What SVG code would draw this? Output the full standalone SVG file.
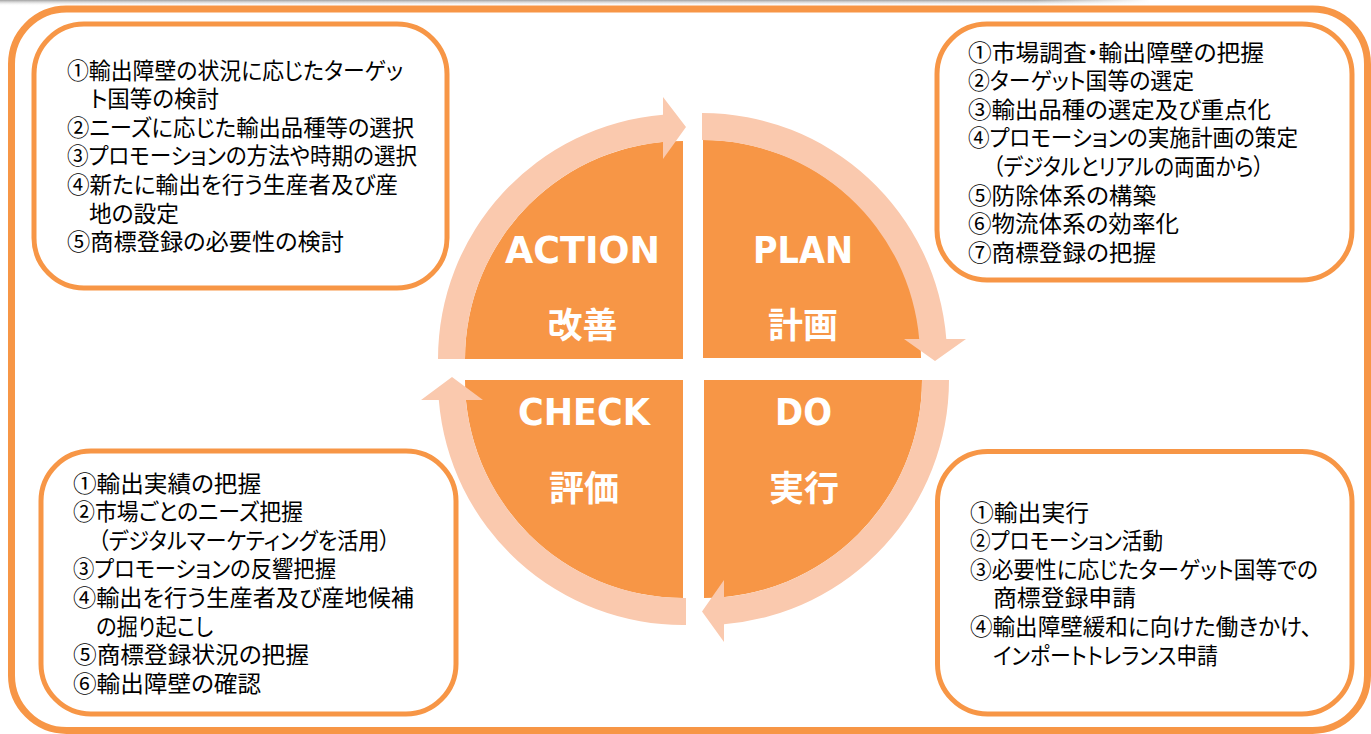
<svg xmlns="http://www.w3.org/2000/svg" width="1371" height="734" viewBox="0 0 1371 734">
<defs>
<linearGradient id="shadow" x1="0" y1="0" x2="0" y2="1">
<stop offset="0" stop-color="#a0a0a0"/>
<stop offset="1" stop-color="#ffffff" stop-opacity="0"/>
</linearGradient>
<linearGradient id="shadowH" x1="0" y1="0" x2="1" y2="0">
<stop offset="0" stop-color="#fff" stop-opacity="0"/>
<stop offset="0.9" stop-color="#fff" stop-opacity="0"/>
<stop offset="1" stop-color="#fff" stop-opacity="1"/>
</linearGradient>
</defs>
<style>
.frame{fill:none;stroke:#F79646;stroke-width:7}
.box{fill:#fff;stroke:#F79646;stroke-width:5}
.quad{fill:#F79646}
.arrow{fill:#FAC9AE}
.body{font-family:"Noto Sans CJK JP","Noto Sans CJK SC",sans-serif;font-size:23px;fill:#000;font-feature-settings:"palt"}
.big{font-family:"DejaVu Sans","Verdana",sans-serif;font-weight:bold;font-size:37px;fill:#fff}
.bigj{font-family:"Noto Sans CJK JP",sans-serif;font-weight:bold;font-size:35px;fill:#fff;text-anchor:middle}
</style>
<rect width="1371" height="734" fill="#fff"/>
<rect x="0" y="0" width="1150" height="6" fill="url(#shadow)"/>
<rect x="0" y="0" width="1150" height="6" fill="url(#shadowH)"/>
<rect class="frame" x="11.5" y="9" width="1356" height="721.5" rx="55" ry="55"/>

<g id="action">
<path class="quad" d="M683,359 L465,359 A218,218 0 0 1 683,141 Z"/>
<text class="big" x="505" y="263" textLength="155" lengthAdjust="spacingAndGlyphs">ACTION</text>
<text class="bigj" x="582.5" y="338">改善</text>
</g>
<g id="plan">
<path class="quad" d="M703,358 L703,140 A218,218 0 0 1 921,358 Z"/>
<text class="big" x="753" y="263" textLength="100" lengthAdjust="spacingAndGlyphs">PLAN</text>
<text class="bigj" x="803" y="338">計画</text>
</g>
<g id="do">
<path class="quad" d="M704,380 L922,380 A218,218 0 0 1 704,598 Z"/>
<text class="big" x="775" y="425" textLength="57" lengthAdjust="spacingAndGlyphs">DO</text>
<text class="bigj" x="804" y="500.5">実行</text>
</g>
<g id="check">
<path class="quad" d="M683,380 L683,598 A218,218 0 0 1 465,380 Z"/>
<text class="big" x="518" y="425" textLength="132" lengthAdjust="spacingAndGlyphs">CHECK</text>
<text class="bigj" x="584" y="500.5">評価</text>
</g>

<g id="connectors">
<path class="arrow" d="M438,359 A245,245 0 0 1 663,114.8 L663,97 L686,127 L663,159 L663,141.9 A218,218 0 0 0 465,359 Z"/>
<path class="arrow" d="M702,113 A245,245 0 0 1 946.3,339 L966,339 L935,361 L904,339 L919.2,339 A218,218 0 0 0 702,140 Z"/>
<path class="arrow" d="M949,380 A245,245 0 0 1 724,624.2 L724,642 L702,611.5 L724,580 L724,597.1 A218,218 0 0 0 922,380 Z"/>
<path class="arrow" d="M686,625 A245,245 0 0 1 438.8,400 L421,400 L452,377 L483,400 L465.9,400 A218,218 0 0 0 686,598 Z"/>
</g>

<g id="action-box">
<rect class="box" x="34" y="24" width="413" height="264" rx="50" ry="50"/>
<text class="body" x="67" y="78.5" textLength="336" lengthAdjust="spacingAndGlyphs">①輸出障壁の状況に応じたターゲッ</text>
<text class="body" x="90" y="107.1" textLength="129" lengthAdjust="spacingAndGlyphs">ト国等の検討</text>
<text class="body" x="67" y="135.7" textLength="347" lengthAdjust="spacingAndGlyphs">②ニーズに応じた輸出品種等の選択</text>
<text class="body" x="67" y="164.3" textLength="350" lengthAdjust="spacingAndGlyphs">③プロモーションの方法や時期の選択</text>
<text class="body" x="67" y="192.9" textLength="331" lengthAdjust="spacingAndGlyphs">④新たに輸出を行う生産者及び産</text>
<text class="body" x="89" y="221.5" textLength="90" lengthAdjust="spacingAndGlyphs">地の設定</text>
<text class="body" x="67" y="250.1" textLength="277" lengthAdjust="spacingAndGlyphs">⑤商標登録の必要性の検討</text>
</g>

<g id="plan-box">
<rect class="box" x="937" y="24" width="415" height="256" rx="50" ry="50"/>
<text class="body" x="968" y="60.5" textLength="296" lengthAdjust="spacingAndGlyphs">①市場調査・輸出障壁の把握</text>
<text class="body" x="968" y="89.1" textLength="226" lengthAdjust="spacingAndGlyphs">②ターゲット国等の選定</text>
<text class="body" x="968" y="117.7" textLength="303" lengthAdjust="spacingAndGlyphs">③輸出品種の選定及び重点化</text>
<text class="body" x="968" y="146.3" textLength="330" lengthAdjust="spacingAndGlyphs">④プロモーションの実施計画の策定</text>
<text class="body" x="993" y="174.9" textLength="271" lengthAdjust="spacingAndGlyphs">（デジタルとリアルの両面から）</text>
<text class="body" x="968" y="203.5" textLength="188" lengthAdjust="spacingAndGlyphs">⑤防除体系の構築</text>
<text class="body" x="968" y="232.1" textLength="211" lengthAdjust="spacingAndGlyphs">⑥物流体系の効率化</text>
<text class="body" x="968" y="260.7" textLength="188" lengthAdjust="spacingAndGlyphs">⑦商標登録の把握</text>
</g>

<g id="check-box">
<rect class="box" x="41" y="451" width="415" height="263" rx="50" ry="50"/>
<text class="body" x="73" y="491.5" textLength="188" lengthAdjust="spacingAndGlyphs">①輸出実績の把握</text>
<text class="body" x="73" y="520.1" textLength="230" lengthAdjust="spacingAndGlyphs">②市場ごとのニーズ把握</text>
<text class="body" x="98" y="548.7" textLength="292" lengthAdjust="spacingAndGlyphs">（デジタルマーケティングを活用）</text>
<text class="body" x="73" y="577.3" textLength="263" lengthAdjust="spacingAndGlyphs">③プロモーションの反響把握</text>
<text class="body" x="73" y="605.9" textLength="341" lengthAdjust="spacingAndGlyphs">④輸出を行う生産者及び産地候補</text>
<text class="body" x="96" y="634.5" textLength="117" lengthAdjust="spacingAndGlyphs">の掘り起こし</text>
<text class="body" x="73" y="663.1" textLength="236" lengthAdjust="spacingAndGlyphs">⑤商標登録状況の把握</text>
<text class="body" x="73" y="691.7" textLength="188" lengthAdjust="spacingAndGlyphs">⑥輸出障壁の確認</text>
</g>

<g id="do-box">
<rect class="box" x="937.5" y="451.5" width="414.5" height="262.5" rx="50" ry="50"/>
<text class="body" x="970" y="520.5" textLength="119" lengthAdjust="spacingAndGlyphs">①輸出実行</text>
<text class="body" x="970" y="549.1" textLength="193" lengthAdjust="spacingAndGlyphs">②プロモーション活動</text>
<text class="body" x="970" y="577.7" textLength="348" lengthAdjust="spacingAndGlyphs">③必要性に応じたターゲット国等での</text>
<text class="body" x="993" y="606.3" textLength="143" lengthAdjust="spacingAndGlyphs">商標登録申請</text>
<text class="body" x="970" y="634.9" textLength="342" lengthAdjust="spacingAndGlyphs">④輸出障壁緩和に向けた働きかけ、</text>
<text class="body" x="993" y="663.5" textLength="225" lengthAdjust="spacingAndGlyphs">インポートトレランス申請</text>
</g>
</svg>
